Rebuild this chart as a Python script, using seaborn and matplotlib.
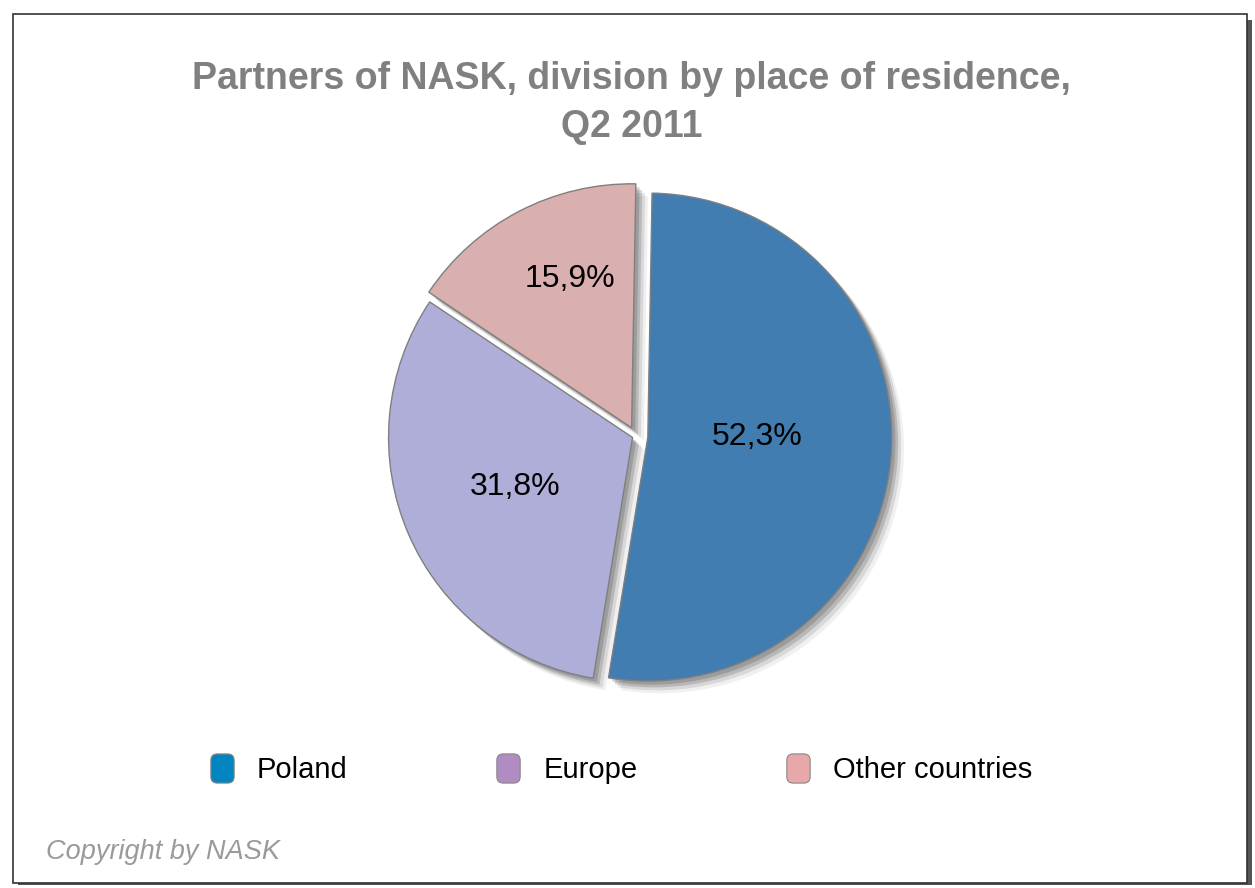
import matplotlib
matplotlib.use("Agg")
import matplotlib.pyplot as plt
from matplotlib.patches import Rectangle, BoxStyle
from matplotlib.lines import Line2D
import numpy as np
import seaborn as sns

# data
regions = ["Poland", "Europe", "Other countries"]
shares = [52.3, 31.8, 15.9]
pie_colors = ["#417db0", "#afaed8", "#d9afaf"]
legend_colors = ["#0284c0", "#b18cc3", "#e8a8aa"]

sns.set_theme(style="white")
plt.rcParams['font.family'] = ['Liberation Sans', 'DejaVu Sans']

fig = plt.figure(figsize=(12.55, 8.88), dpi=100)
fig.patch.set_facecolor("white")

# frame with a drop shadow on the right / bottom
fig.patches.append(Rectangle((0.014, 0.003), 0.984, 0.975, transform=fig.transFigure,
                             facecolor="#555555", edgecolor="none", zorder=-3))
fig.patches.append(Rectangle((0.010, 0.006), 0.984, 0.978, transform=fig.transFigure,
                             facecolor="white", edgecolor="#333333", linewidth=1.2, zorder=-2))

ax = fig.add_axes([0.2637, 0.1655, 0.486, 0.687])
ax.set_zorder(2)
ax.patch.set_alpha(0)
explode = [0.049, 0.015, 0.038]
start = 89

# soft shadow under the pie
for off, a in [(0.05, 0.08), (0.038, 0.14), (0.026, 0.22), (0.015, 0.25)]:
    ax.pie(shares, startangle=start, counterclock=False, explode=explode,
           colors=["#4a4a4a"] * 3, center=(off, -off),
           wedgeprops=dict(linewidth=0, alpha=a))

wedges, texts, autotexts = ax.pie(
    shares, startangle=start, counterclock=False, explode=explode,
    colors=pie_colors, autopct=lambda p: f"{p:.1f}%".replace(".", ","),
    wedgeprops=dict(edgecolor="#7f7f7f", linewidth=1.0),
    textprops=dict(fontsize=23, color="black"))

# label placement inside each wedge: (distance, angle tweak)
for w, t, (d, da) in zip(wedges, autotexts, [(0.447, 5.2), (0.523, -0.8), (0.66, -5.0)]):
    mid = np.deg2rad((w.theta1 + w.theta2) / 2 + da)
    cx, cy = w.center
    t.set_position((cx + d * np.cos(mid), cy + d * np.sin(mid)))

ax.set_xlim(-1.25, 1.25)
ax.set_ylim(-1.25, 1.25)
ax.set_aspect("equal")

fig.text(0.503, 0.884, "Partners of NASK, division by place of residence,\nQ2 2011",
         ha="center", va="center", fontsize=27, fontweight="bold", color="#808080",
         linespacing=1.45)

# rounded legend swatches
rbox = BoxStyle("Round", pad=0, rounding_size=0.22)(-0.4, -0.5, 0.8, 1.0, 1.0)
handles = [Line2D([], [], linestyle="none", marker=rbox, markersize=21,
                  markerfacecolor=c, markeredgecolor="#888888", markeredgewidth=0.8)
           for c in legend_colors]
fig.legend(handles, regions, loc="center", bbox_to_anchor=(0.495, 0.133), ncol=3,
           frameon=False, fontsize=21, columnspacing=5.1, handlelength=0.8,
           handletextpad=0.8, labelcolor="black")

fig.text(0.037, 0.041, "Copyright by NASK", fontsize=19.5, style="italic", color="#9a9a9a",
         ha="left", va="center")

fig.savefig("out.png", dpi=100)
